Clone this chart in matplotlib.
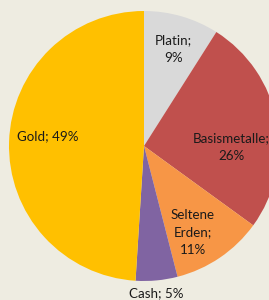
import matplotlib
matplotlib.use("Agg")
import matplotlib.pyplot as plt

categories = ["Platin", "Basismetalle", "Seltene\nErden", "Cash", "Gold"]
values = [9, 26, 11, 5, 49]
colors = ["#D9D9D9", "#C0504D", "#F79646", "#8064A2", "#FFC000"]
label_texts = ["Platin;\n9%", "Basismetalle;\n26%", "Seltene\nErden;\n11%", "Cash; 5%", "Gold; 49%"]
label_pos = [(0.22, 0.72), (0.65, -0.01), (0.36, -0.64), (0.09, -1.09), (-0.71, 0.07)]

bg = "#EEECE1"
fig = plt.figure(figsize=(2.69, 3.0), dpi=100, facecolor=bg)
W, H = 269, 300
cx, cy, r = 144, 146, 135
ax = fig.add_axes([(cx - r) / W, (H - cy - r) / H, 2 * r / W, 2 * r / H])
ax.set_facecolor(bg)
ax.pie(values, colors=colors, startangle=90, counterclock=False,
       wedgeprops=dict(linewidth=0))
ax.set_xlim(-1, 1)
ax.set_ylim(-1, 1)
ax.set_aspect('auto')
ax.axis('off')
for txt, (x, y) in zip(label_texts, label_pos):
    ax.text(x, y, txt, ha='center', va='center', fontsize=9.6, family='Lato',
            color='#1a1a1a', linespacing=1.55, clip_on=False)

fig.savefig("out.png", dpi=100, facecolor=bg)
